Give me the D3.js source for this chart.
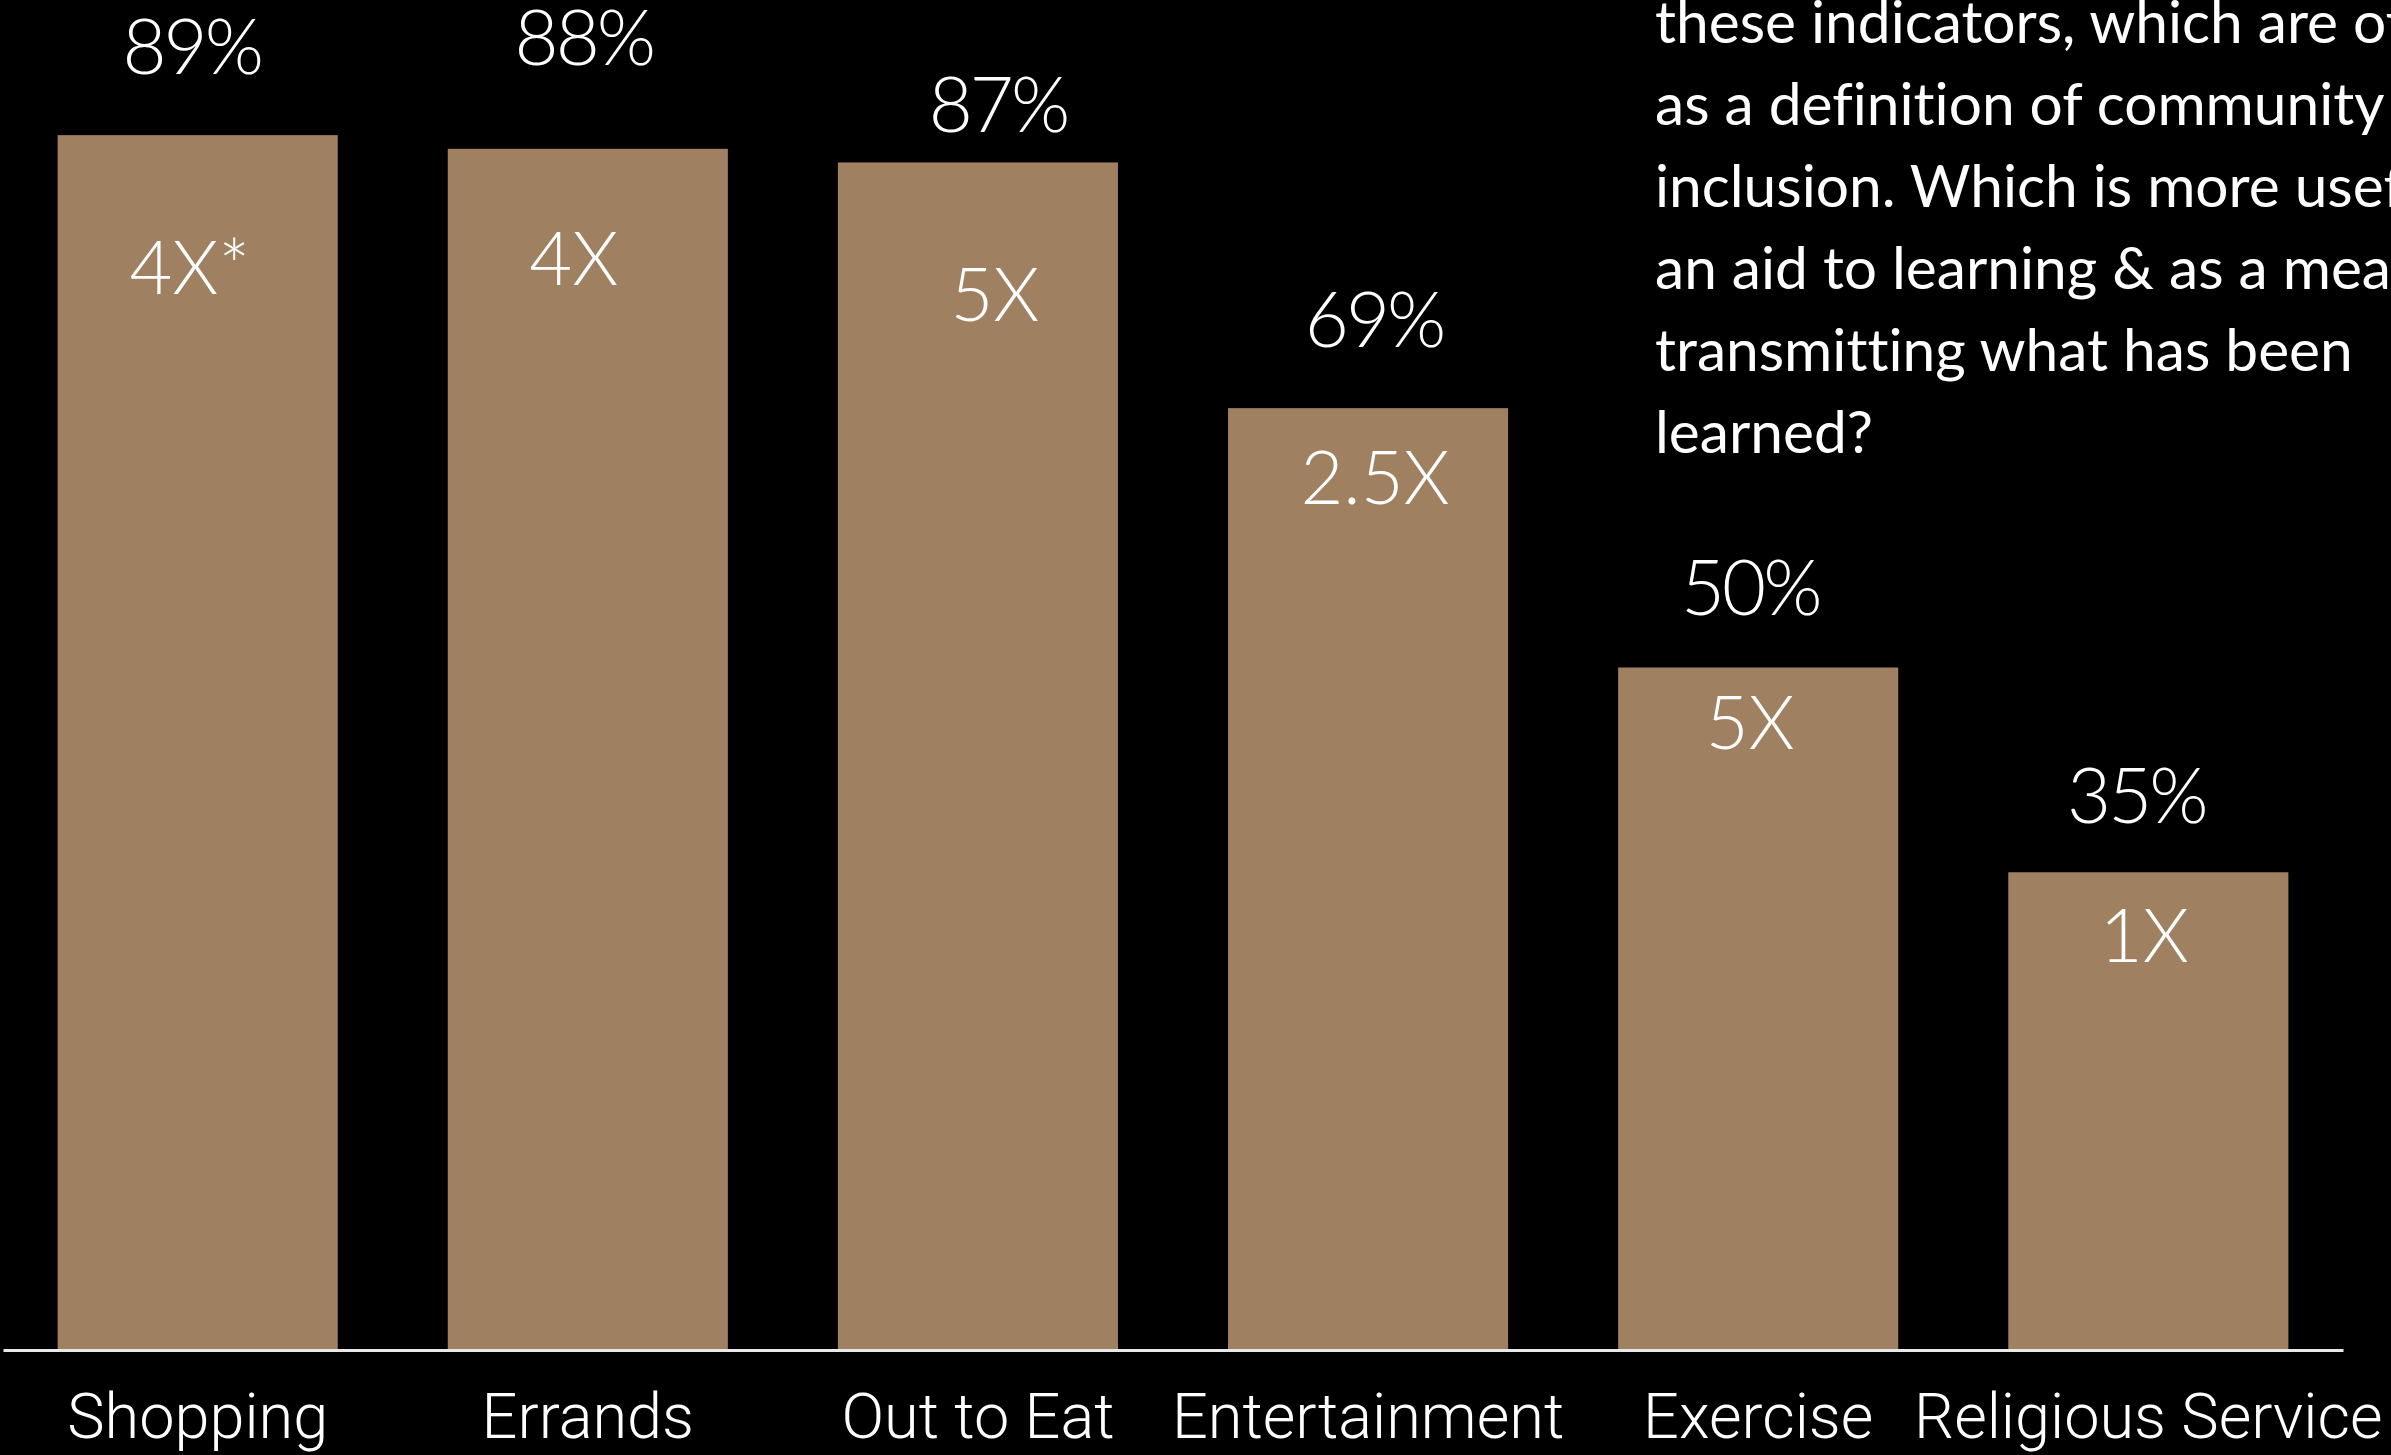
<!DOCTYPE html>
<html>
<head>
<meta charset="utf-8">
<script src="https://cdn.jsdelivr.net/npm/d3@7"></script>
<style>
  html, body { margin: 0; padding: 0; background: #000; overflow: hidden; }
  svg { display: block; }
  text { font-variant-ligatures: none; font-feature-settings: "liga" 0; }
</style>
</head>
<body>
<div id="wrapper"></div>
<script>
// chart data
const categories = ['Shopping', 'Errands', 'Out to Eat', 'Entertainment', 'Exercise', 'Religious Service']
const percents = [89, 88, 87, 69, 50, 35]
const multipliers = ['4X*', '4X', '5X', '2.5X', '5X', '1X']
const noteLines = [
  'these indicators, which are often',
  'as a definition of community',
  'inclusion. Which is more useful as',
  'an aid to learning & as a means of',
  'transmitting what has been',
  'learned?',
]

// hand placed label nudges (px, relative to bar top / bar centre)
const pctDy = [-61, -84, -30, -61, -53, -49]
const pctDx = [-6, -4, 20, 6, -8, -12]
const multDy = [159, 136, 159, 96, 81, 90]
const multDx = [-8, -14, 17, 7, -8, -4]

function drawChart() {
  const dimensions = {
    width: 2391,
    height: 1455,
    baseline: 1350,
    left: 3,
    right: 2343,
  }

  const svg = d3
    .select('#wrapper')
    .append('svg')
    .attr('width', dimensions.width)
    .attr('height', dimensions.height)
    .style('background', '#000')

  // band scale for the bars
  const xScale = d3
    .scaleBand()
    .domain(categories)
    .range([dimensions.left, dimensions.right])
    .paddingInner(0.282)
    .paddingOuter(0.14)

  // 100% would sit just above the top edge
  const yScale = d3
    .scaleLinear()
    .domain([0, 100])
    .range([dimensions.baseline, -15])

  const bars = svg.append('g').attr('class', 'bars')

  bars
    .selectAll('rect')
    .data(percents)
    .join('rect')
    .attr('x', (d, i) => xScale(categories[i]))
    .attr('y', (d) => yScale(d))
    .attr('width', xScale.bandwidth())
    .attr('height', (d) => yScale(0) - yScale(d))
    .attr('fill', '#9f8061')

  const centre = (i) => xScale(categories[i]) + xScale.bandwidth() / 2

  // percent labels above each bar
  svg
    .append('g')
    .selectAll('text')
    .data(percents)
    .join('text')
    .attr('x', (d, i) => centre(i) + pctDx[i])
    .attr('y', (d, i) => yScale(d) + pctDy[i])
    .attr('text-anchor', 'middle')
    .attr('fill', '#fff')
    .attr('font-family', 'Lato, "Open Sans", sans-serif')
    .attr('font-weight', 300)
    .attr('font-size', 76)
    .attr('letter-spacing', -3)
    .text((d) => d + '%')

  // multiplier labels inside the bars
  svg
    .append('g')
    .selectAll('text')
    .data(multipliers)
    .join('text')
    .attr('x', (d, i) => centre(i) + multDx[i])
    .attr('y', (d, i) => yScale(percents[i]) + multDy[i])
    .attr('text-anchor', 'middle')
    .attr('fill', '#fff')
    .attr('font-family', 'Lato, "Open Sans", sans-serif')
    .attr('font-weight', 300)
    .attr('font-size', 74)
    .text((d) => d)

  // x axis with the category names
  const xAxisGenerator = d3.axisBottom(xScale).tickSize(0).tickSizeOuter(0)
  const xAxis = svg
    .append('g')
    .attr('id', 'x-axis')
    .attr('transform', `translate(0, ${dimensions.baseline})`)
    .call(xAxisGenerator)

  xAxis.select('.domain').attr('stroke', '#e8e8e8').attr('stroke-width', 3)
  xAxis
    .selectAll('text')
    .attr('y', 88)
    .attr('dy', 0)
    .attr('fill', '#fff')
    .attr('font-family', 'Roboto, "Liberation Sans", sans-serif')
    .attr('font-weight', 300)
    .attr('font-size', 63)

  // note in the top right corner, cut off by the page edge as in the original
  const note = svg
    .append('g')
    .attr('class', 'note')
    .attr('font-family', 'Lato, "Open Sans", sans-serif')
    .attr('fill', '#fff')

  const noteText = note
    .selectAll('text')
    .data(noteLines)
    .join('text')
    .attr('x', 1655)
    .attr('y', (d, i) => 43 + i * 82)
    .attr('font-size', 100)
    .text((d) => d)

  // fit the font so the 5th line matches its width in the original
  const probe = noteText.filter((d, i) => i === 4).node()
  const fitted = (100 * 698) / probe.getComputedTextLength()
  noteText.attr('font-size', fitted)
}

drawChart()
</script>
</body>
</html>
